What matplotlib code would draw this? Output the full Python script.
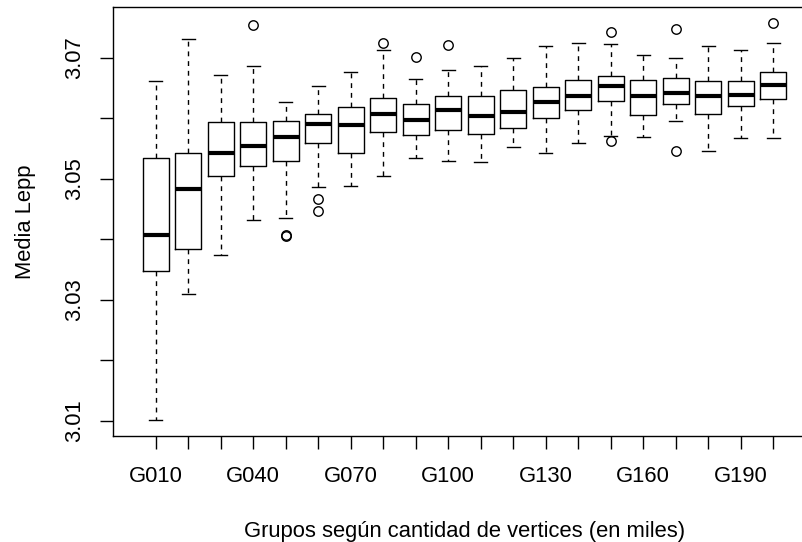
import matplotlib
matplotlib.use("Agg")
import matplotlib.pyplot as plt

# Group labels (thousands of vertices)
groups = ["G%03d" % g for g in range(10, 201, 10)]

# Five-number summaries per group
whisker_low = [3.0101, 3.0310, 3.0374, 3.0432, 3.0435, 3.0487, 3.0488, 3.0505, 3.0535, 3.0529,
               3.0527, 3.0552, 3.0543, 3.0559, 3.0571, 3.0569, 3.0596, 3.0545, 3.0568, 3.0568]
q1 = [3.0348, 3.0384, 3.0504, 3.0521, 3.0529, 3.0559, 3.0542, 3.0577, 3.0573, 3.0581,
      3.0574, 3.0583, 3.0600, 3.0614, 3.0628, 3.0606, 3.0624, 3.0607, 3.0620, 3.0631]
medians = [3.0407, 3.0483, 3.0543, 3.0554, 3.0569, 3.0591, 3.0589, 3.0607, 3.0597, 3.0614,
           3.0603, 3.0610, 3.0626, 3.0636, 3.0654, 3.0637, 3.0641, 3.0637, 3.0639, 3.0655]
q3 = [3.0535, 3.0542, 3.0594, 3.0593, 3.0595, 3.0607, 3.0619, 3.0634, 3.0623, 3.0636,
      3.0637, 3.0646, 3.0652, 3.0663, 3.0669, 3.0663, 3.0666, 3.0662, 3.0662, 3.0676]
whisker_high = [3.0662, 3.0731, 3.0672, 3.0687, 3.0627, 3.0653, 3.0677, 3.0713, 3.0665, 3.0680,
                3.0687, 3.0700, 3.0720, 3.0724, 3.0723, 3.0705, 3.0700, 3.0719, 3.0712, 3.0725]
outliers = [[], [], [], [3.0754], [3.0405, 3.0407], [3.0467, 3.0447], [], [3.0725],
            [3.0702], [3.0721], [], [], [], [], [3.0743, 3.0563], [], [3.0747, 3.0546],
            [], [], [3.0757]]

plt.rcParams["font.family"] = ["Liberation Sans", "DejaVu Sans"]
FS = 15.8

fig = plt.figure(figsize=(8.03, 5.42), dpi=100)
ax = fig.add_axes([0.1412, 0.1961, 0.8743, 0.7904])

stats = []
for i, g in enumerate(groups):
    stats.append(dict(label=g, whislo=whisker_low[i], q1=q1[i], med=medians[i],
                      q3=q3[i], whishi=whisker_high[i], fliers=outliers[i]))

positions = list(range(1, len(groups) + 1))
ax.bxp(stats, positions=positions, widths=0.8, showfliers=True,
       boxprops=dict(color="black", linewidth=1.0),
       medianprops=dict(color="black", linewidth=3.0, solid_capstyle="butt"),
       whiskerprops=dict(color="black", linewidth=1.0, linestyle=(0, (3.5, 3.5))),
       capprops=dict(color="black", linewidth=1.0),
       capwidths=0.4,
       flierprops=dict(marker="o", markerfacecolor="none", markeredgecolor="black",
                       markersize=6.8, markeredgewidth=1.0))

ax.set_xlim(-0.3, 21.3)
ax.set_ylim(3.00752, 3.07833)

ax.set_xticks(positions)
ax.set_xticklabels([g if i % 3 == 0 else "" for i, g in enumerate(groups)], fontsize=FS)
yticks = [3.01, 3.02, 3.03, 3.04, 3.05, 3.06, 3.07]
ax.set_yticks(yticks)
ax.set_yticklabels(["%.2f" % t if k % 2 == 0 else "" for k, t in enumerate(yticks)],
                   fontsize=FS, rotation=90, va="center")

ax.tick_params(axis="both", direction="out", length=9.5, width=1.0, color="black")
ax.tick_params(axis="x", pad=12)
ax.tick_params(axis="y", pad=11)
for s in ax.spines.values():
    s.set_linewidth(1.0)

ax.set_xlabel("Grupos según cantidad de vertices (en miles)", fontsize=FS, labelpad=25)
ax.set_ylabel("Media Lepp", fontsize=FS, labelpad=20)

fig.savefig("out.png", dpi=100)
